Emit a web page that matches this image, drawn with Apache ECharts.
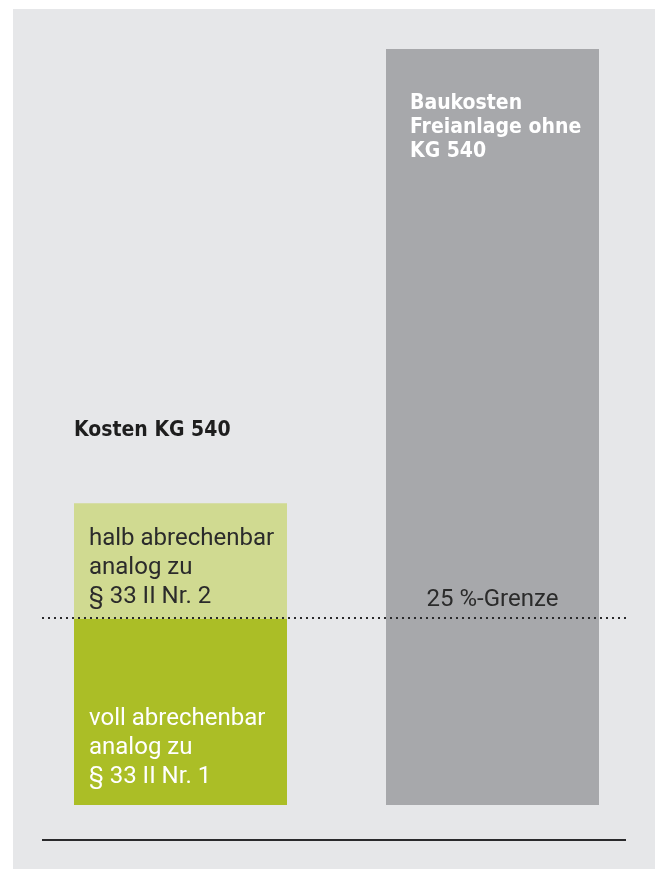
<!DOCTYPE html>
<html>
<head>
<meta charset="utf-8">
<script src="https://cdn.jsdelivr.net/npm/echarts@6/dist/echarts.min.js"></script>
<style>
  html, body { margin: 0; padding: 0; background: #ffffff; }
  #chart { width: 655px; height: 869px; }
</style>
</head>
<body>
<div id="chart"></div>
<script>
// Kategorien und Werte (Anteil an den Baukosten der Freianlage, in %)
var categories = ['Kosten KG 540', 'Baukosten Freianlage'];
var vollAbrechenbar = [24.6, '-'];
var halbAbrechenbar = [15.3, '-'];
var baukostenGesamt = ['-', 100];
var grenzeWert = 24.8;

var labelVoll = 'voll abrechenbar\nanalog zu\n§ 33 II Nr. 1';
var labelHalb = 'halb abrechenbar\nanalog zu\n§ 33 II Nr. 2';
var labelGesamt = 'Baukosten\nFreianlage ohne\nKG 540';
var labelKosten = 'Kosten KG 540';
var labelGrenze = '25 %-Grenze';

var textFont = 'Roboto, "Noto Sans", sans-serif';
// schmale fette Schrift: DejaVu Sans Condensed Bold
var boldFont = '"DejaVu Sans", sans-serif';
var boldWeight = 'bold condensed';

var chart = echarts.init(document.getElementById('chart'));
chart.setOption({
  animation: false,
  backgroundColor: '#ffffff',
  grid: { left: 24.5, right: 6.5, top: 49, bottom: 64 },
  xAxis: {
    type: 'category',
    data: categories,
    show: false
  },
  yAxis: {
    type: 'value',
    min: 0,
    max: 100,
    show: false
  },
  graphic: [
    // grauer Hintergrund
    { type: 'rect', z: -10, shape: { x: 13, y: 9, width: 642, height: 860 }, style: { fill: '#e6e7e9' } },
    // Grundlinie unten
    { type: 'line', z: 10, shape: { x1: 42, y1: 840, x2: 626, y2: 840 }, style: { stroke: '#2a2a2c', lineWidth: 2 } }
  ],
  series: [
    {
      name: 'voll',
      type: 'bar',
      stack: 'a',
      barWidth: 213,
      data: vollAbrechenbar,
      itemStyle: { color: '#abbe26' },
      label: {
        show: true,
        position: [15, 85],
        formatter: labelVoll,
        color: '#ffffff',
        fontFamily: textFont,
        fontSize: 24,
        lineHeight: 29
      },
      markLine: {
        silent: true,
        symbol: ['none', 'none'],
        label: { show: false },
        lineStyle: { type: [2, 4], width: 2, color: '#2a2a2c' },
        data: [[{ x: 42, yAxis: grenzeWert }, { x: 628, yAxis: grenzeWert }]]
      }
    },
    {
      name: 'halb',
      type: 'bar',
      stack: 'a',
      barWidth: 213,
      data: halbAbrechenbar,
      itemStyle: { color: '#d0da91' },
      label: {
        show: true,
        position: [15, 21],
        formatter: labelHalb,
        color: '#2b2b2b',
        fontFamily: textFont,
        fontSize: 24,
        lineHeight: 29
      },
      markPoint: {
        silent: true,
        symbol: 'rect',
        symbolSize: 1,
        itemStyle: { color: 'transparent' },
        data: [{
          coord: [categories[0], vollAbrechenbar[0] + halbAbrechenbar[0]],
          label: {
            show: true,
            position: 'inside',
            formatter: labelKosten,
            align: 'left',
            verticalAlign: 'bottom',
            offset: [-106.5, -62],
            color: '#1e1e1e',
            fontFamily: boldFont,
            fontWeight: boldWeight,
            fontSize: 21
          }
        }]
      }
    },
    {
      name: 'gesamt',
      type: 'bar',
      stack: 'a',
      barWidth: 213,
      data: baukostenGesamt,
      itemStyle: { color: '#a7a8ab' },
      label: {
        show: true,
        position: [24, 43],
        formatter: labelGesamt,
        color: '#ffffff',
        fontFamily: boldFont,
        fontWeight: boldWeight,
        fontSize: 21,
        lineHeight: 24
      },
      markPoint: {
        silent: true,
        symbol: 'rect',
        symbolSize: 1,
        itemStyle: { color: 'transparent' },
        data: [{
          coord: [categories[1], grenzeWert],
          label: {
            show: true,
            position: 'inside',
            formatter: labelGrenze,
            verticalAlign: 'bottom',
            offset: [0, -6],
            color: '#2b2b2b',
            fontFamily: textFont,
            fontSize: 24
          }
        }]
      }
    }
  ]
});
</script>
</body>
</html>
